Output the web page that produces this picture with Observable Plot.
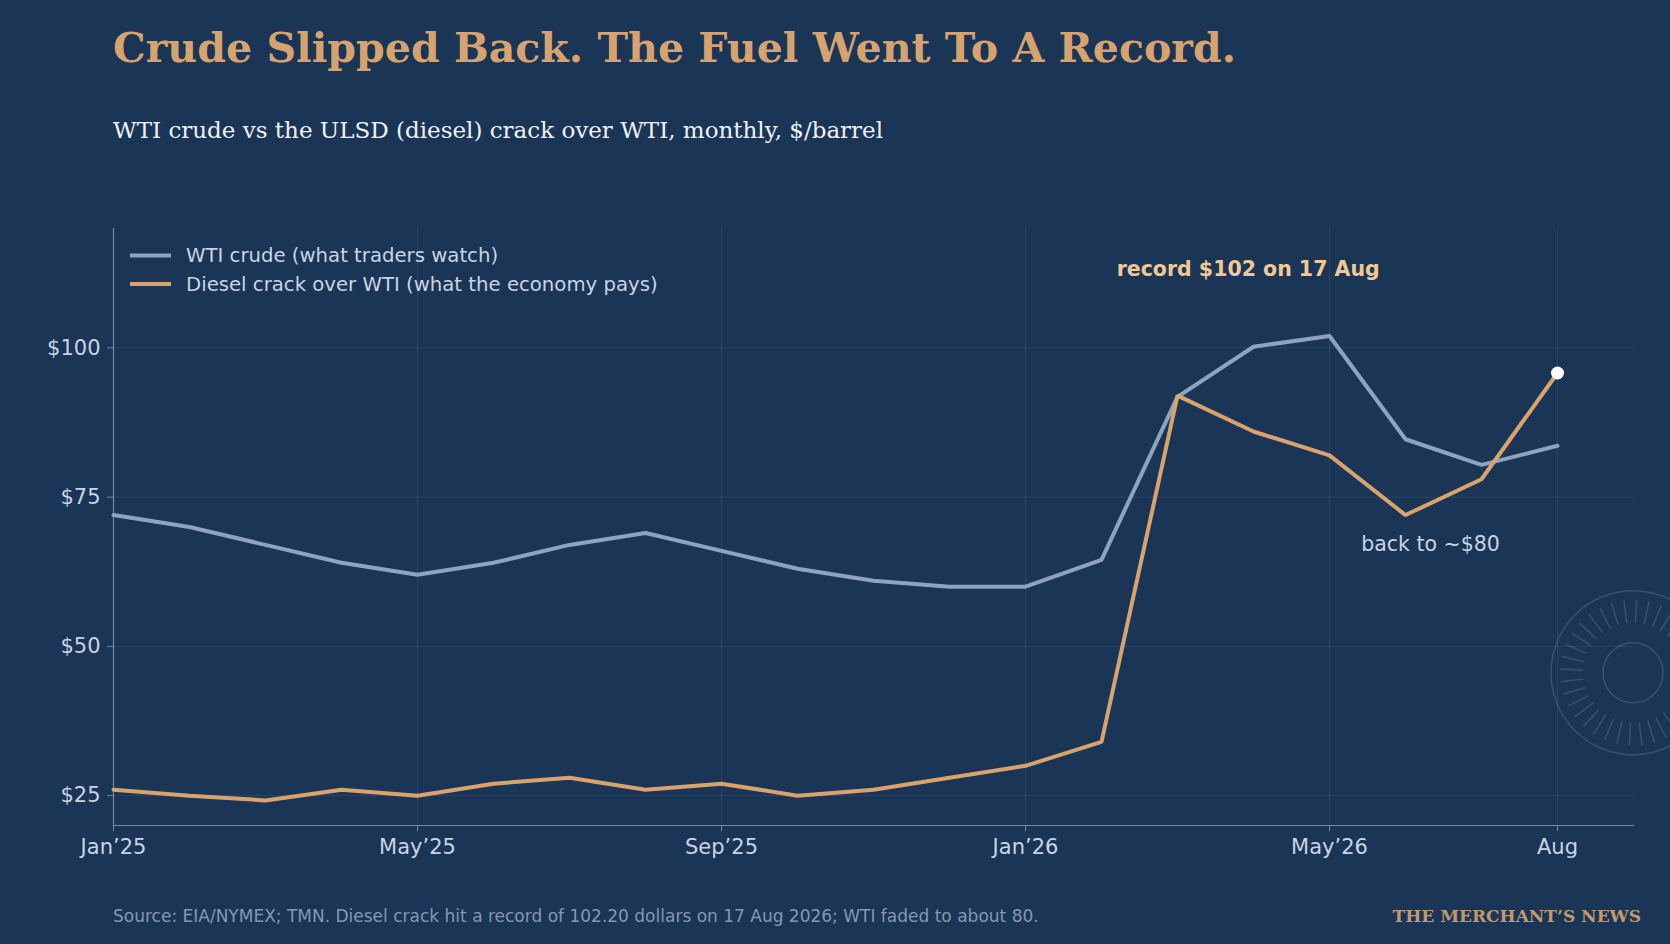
<!DOCTYPE html>
<html>
<head>
<meta charset="utf-8">
<script src="https://cdn.jsdelivr.net/npm/d3@7"></script>
<script src="https://cdn.jsdelivr.net/npm/@observablehq/plot@0.6"></script>
<style>
html,body{margin:0;padding:0;background:#1b3557;}
#page{position:relative;width:1670px;height:944px;overflow:hidden;background:#1b3557;}
#title{position:absolute;left:113px;top:27px;font-family:"DejaVu Serif";font-weight:bold;font-size:41.1px;color:#d6a36e;line-height:1;white-space:nowrap;}
#subtitle{position:absolute;left:113px;top:119px;font-family:"DejaVu Serif";font-size:23px;color:#eef2f7;line-height:1;white-space:nowrap;}
#chart{position:absolute;left:0;top:200px;}
#source{position:absolute;left:113px;top:908px;font-family:"DejaVu Sans";font-size:17px;color:#8797b0;line-height:1;white-space:nowrap;}
#brand{position:absolute;right:29px;top:908px;font-family:"DejaVu Serif";font-weight:bold;font-size:17px;color:#c29a6a;line-height:1;white-space:nowrap;}
</style>
</head>
<body>
<div id="page">
  <div id="title">Crude Slipped Back. The Fuel Went To A Record.</div>
  <div id="subtitle">WTI crude vs the ULSD (diesel) crack over WTI, monthly, $/barrel</div>
  <div id="chart"></div>
  <div id="source">Source: EIA/NYMEX; TMN. Diesel crack hit a record of 102.20 dollars on 17 Aug 2026; WTI faded to about 80.</div>
  <div id="brand">THE MERCHANT’S NEWS</div>
</div>
<script>
// ---- data ----
const months = ["2025-01","2025-02","2025-03","2025-04","2025-05","2025-06","2025-07","2025-08","2025-09","2025-10","2025-11","2025-12",
                "2026-01","2026-02","2026-03","2026-04","2026-05","2026-06","2026-07","2026-08"];
const wti    = [72, 70, 67, 64, 62, 64, 67, 69, 66, 63, 61, 60, 60, 64.5, 91.8, 100.2, 102, 84.7, 80.4, 83.6];
const diesel = [26, 25, 24.2, 26, 25, 27, 28, 26, 27, 25, 26, 28, 30, 34, 92, 86, 82, 72, 78, 95.8];
const seriesNames = ["WTI crude (what traders watch)", "Diesel crack over WTI (what the economy pays)"];
const xTickMonths = ["2025-01","2025-05","2025-09","2026-01","2026-05","2026-08"];
const xTickLabels = ["Jan’25","May’25","Sep’25","Jan’26","May’26","Aug"];
const yTicks = [25, 50, 75, 100];
const xDomainMonths = ["2025-01","2026-09"];
const yDomain = [20, 120];
// positions in months from Jan 2025 (fractional = part-way through a month)
const annotations = [
  {month: 14.93, value: 113.2, label: "record $102 on 17 Aug", kind: "record"},
  {month: 17.33, value: 67.1, label: "back to ~$80", kind: "note"}
];

// ---- build ----
const monthIndex = m => { const [y, mo] = m.split("-").map(Number); return (y - 2025) * 12 + (mo - 1); };
const rows = [];
months.forEach((m, i) => {
  rows.push({t: monthIndex(m), value: wti[i], series: seriesNames[0]});
  rows.push({t: monthIndex(m), value: diesel[i], series: seriesNames[1]});
});
const xTicks = xTickMonths.map(monthIndex);
const tickLabel = new Map(xTicks.map((d, i) => [d, xTickLabels[i]]));
const lastDiesel = [{t: monthIndex(months[months.length-1]), value: diesel[diesel.length-1]}];

const colWTI = "#8fa3bf", colDiesel = "#d9a46c";
const textCol = "#c9d4e2", axisCol = "#7488a3";

const plot = Plot.plot({
  width: 1670,
  height: 680,
  marginLeft: 113,
  marginRight: 37,
  marginTop: 28,
  marginBottom: 55,
  style: {background: "transparent", fontFamily: "DejaVu Sans", fontSize: "21px", color: textCol, overflow: "hidden"},
  x: {type: "linear", domain: xDomainMonths.map(monthIndex)},
  y: {domain: yDomain},
  color: {domain: seriesNames, range: [colWTI, colDiesel]},
  marks: [
    Plot.gridY(yTicks, {stroke: "#ffffff", strokeOpacity: 0.08, strokeWidth: 1}),
    Plot.gridX(xTicks, {stroke: "#ffffff", strokeOpacity: 0.08, strokeWidth: 1}),
    Plot.frame({anchor: "left", stroke: axisCol, strokeWidth: 1.2}),
    Plot.frame({anchor: "bottom", stroke: axisCol, strokeWidth: 1.2}),
    Plot.axisY(yTicks, {tickFormat: d => "$" + d, tickSize: 6, tickPadding: 7, stroke: axisCol, fill: textCol, label: null}),
    Plot.axisX(xTicks, {tickFormat: d => tickLabel.get(d), tickSize: 6, tickPadding: 8, stroke: axisCol, fill: textCol, label: null}),
    Plot.line(rows, {x: "t", y: "value", z: "series", stroke: "series", strokeWidth: 4, strokeLinejoin: "miter"}),
    Plot.dot(lastDiesel, {x: "t", y: "value", r: 6.5, fill: "#ffffff", stroke: null}),
    Plot.text(annotations.filter(a => a.kind === "record"), {x: "month", y: "value", text: "label", fontWeight: "bold", fontSize: 20.5, fill: "#f0c994", textAnchor: "middle"}),
    Plot.text(annotations.filter(a => a.kind === "note"), {x: "month", y: "value", text: "label", fontSize: 20.5, fill: textCol, textAnchor: "middle"})
  ]
});
document.getElementById("chart").appendChild(plot);

// ---- decorations: legend + watermark ----
const svg = d3.select(plot);
const xs = plot.scale("x"), ys = plot.scale("y");
const wm = svg.insert("g", "g").attr("transform", `translate(${xs.range[1]},${ys.apply(45.5)})`)
  .attr("fill", "none").attr("stroke", "#8ea3c0").attr("stroke-opacity", 0.25).attr("stroke-width", 1.5);
wm.append("circle").attr("r", 82);
wm.append("circle").attr("r", 30);
d3.range(36).forEach(i => {
  const a = i * Math.PI * 2 / 36 + 0.05;
  wm.append("line").attr("x1", Math.cos(a) * 50).attr("y1", Math.sin(a) * 50)
    .attr("x2", Math.cos(a) * 73).attr("y2", Math.sin(a) * 73);
});

const lg = svg.append("g").attr("font-family", "DejaVu Sans").attr("font-size", 19.7).attr("text-anchor", "start");
seriesNames.forEach((name, i) => {
  const y = 55.5 + i * 28.5;
  lg.append("line").attr("x1", 130).attr("x2", 171).attr("y1", y).attr("y2", y)
    .attr("stroke", i === 0 ? colWTI : colDiesel).attr("stroke-width", 4);
  lg.append("text").attr("x", 186).attr("y", y).attr("dy", "0.35em").attr("fill", textCol).text(name);
});
</script>
</body>
</html>
